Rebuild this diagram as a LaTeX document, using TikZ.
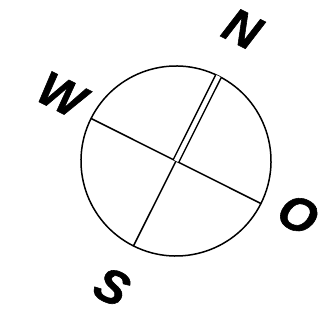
\documentclass[tikz,border=0pt]{standalone}
\usepackage{fontspec}
\setmainfont{Liberation Sans}
\newfontfamily\dirfont[FakeBold=1.2]{Liberation Sans}
\newcommand{\dirlabel}[3]{\node[lbl] (#1) at (#2) {#3};}

\begin{document}
\begin{tikzpicture}[x = 1pt, y = 1pt, line width = 1.5pt,
  lbl/.style = {font = \dirfont\fontsize{48}{48}\selectfont\bfseries\itshape, rotate = -26.6, inner sep = 0pt}]
\useasboundingbox (0,0) rectangle (326,329);
\begin{scope}[shift = {(176,168)}, rotate = -26.6]
\draw (0,0) circle (95);
\coordinate (C) at (0,0);
\coordinate (n) at (0,95);
\coordinate (s) at (0,-95);
\coordinate (w) at (-95,0);
\coordinate (o) at (95,0);
\draw (w) -- (o);
\draw (C) -- (s);
\draw[double, double distance = 4.5pt] (C) -- (n);
\dirlabel{N}{0,148}{N}
\dirlabel{W}{-132,8}{W}
\dirlabel{O}{133,7}{O}
\dirlabel{S}{-1,-141}{S}
\end{scope}
\end{tikzpicture}
\end{document}
